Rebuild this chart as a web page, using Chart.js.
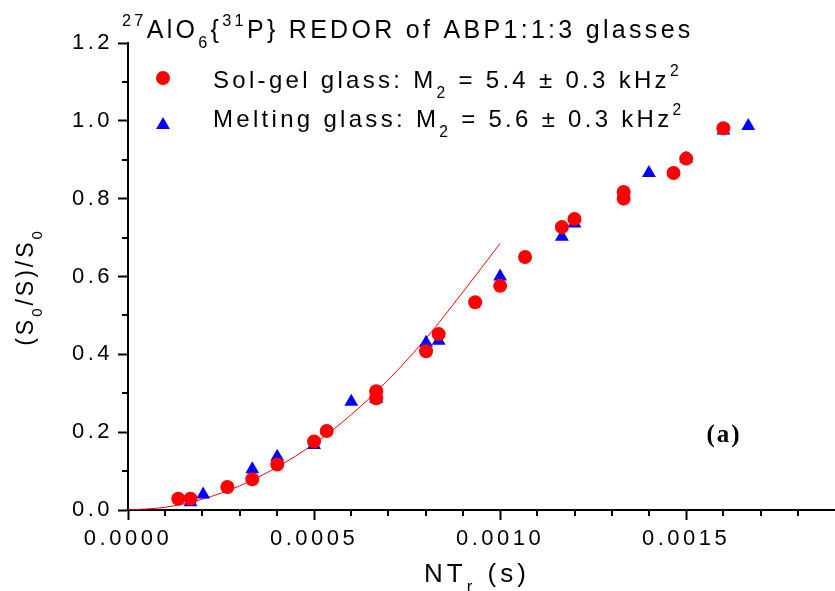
<!DOCTYPE html>
<html>
<head>
<meta charset="utf-8">
<script src="https://cdn.jsdelivr.net/npm/chart.js@4/dist/chart.umd.min.js"></script>
<style>
  body { margin: 0; background: #fff; }
  canvas { display: block; }
</style>
</head>
<body>
<canvas id="chart-redor" width="835" height="591"></canvas>
<script>
// values
const solGelX = [0.000135, 0.000168, 0.000267, 0.000334, 0.000401, 0.0005, 0.000534, 0.000667, 0.000667,
                 0.000801, 0.000835, 0.000933, 0.001, 0.001067, 0.001166, 0.0012, 0.001332, 0.001332,
                 0.001466, 0.0015, 0.0016];
const solGelY = [0.029, 0.029, 0.059, 0.079, 0.117, 0.176, 0.203, 0.287, 0.305,
                 0.408, 0.452, 0.534, 0.576, 0.65, 0.727, 0.748, 0.817, 0.8,
                 0.866, 0.903, 0.981];
const meltX = [0.000168, 0.000202, 0.000334, 0.000401, 0.0005, 0.0006, 0.000667, 0.000801, 0.000835,
               0.001, 0.001166, 0.0012, 0.0014, 0.0015, 0.0016, 0.001667];
const meltY = [0.02, 0.04, 0.105, 0.137, 0.167, 0.278, 0.285, 0.43, 0.435,
               0.6, 0.702, 0.736, 0.866, 0.903, 0.975, 0.987];
// fitted curve (sol-gel)
const fitX = [0, 0.0001, 0.0002, 0.0003, 0.0004, 0.0005, 0.0006, 0.0007, 0.0008, 0.0009, 0.001];
const fitY = [0, 0.007, 0.028, 0.062, 0.11, 0.17, 0.245, 0.335, 0.44, 0.56, 0.685];

const xTicks = [0, 0.0005, 0.001, 0.0015];
const xMinor = [0.0001, 0.0002, 0.0003, 0.0004, 0.0006, 0.0007, 0.0008, 0.0009,
                0.0011, 0.0012, 0.0013, 0.0014, 0.0016, 0.0017, 0.0018];
const yTicks = [0, 0.2, 0.4, 0.6, 0.8, 1.0, 1.2];
const yMinor = [0.1, 0.3, 0.5, 0.7, 0.9, 1.1];

// text pieces: [text, ''|'sub'|'sup']
const titleParts = [['27', 'sup'], ['AlO', ''], ['6', 'sub'], ['{', ''], ['31', 'sup'], ['P} REDOR of ABP1:1:3 glasses', '']];
const solGelLabel = [['Sol-gel glass: M', ''], ['2', 'sub'], [' = 5.4 \u00b1 0.3 kHz', ''], ['2', 'sup']];
const meltLabel = [['Melting glass: M', ''], ['2', 'sub'], [' = 5.6 \u00b1 0.3 kHz', ''], ['2', 'sup']];
const yTitle = [['(S', ''], ['0', 'sub'], ['/S)/S', ''], ['0', 'sub']];
const xTitle = [['NT', ''], ['r', 'sub'], [' (s)', '']];

const FONT = '"Liberation Sans", Arial, sans-serif';

function pts(xs, ys) {
    return xs.map((x, i) => ({ x: x, y: ys[i] }));
}

function drawRich(ctx, parts, x, y, size) {
    parts.forEach(p => {
        const s = p[1] ? size * 0.65 : size;
        let dy = 0;
        if (p[1] === 'sub') dy = size * 0.4;
        if (p[1] === 'sup') dy = -size * 0.5;
        ctx.font = s + 'px ' + FONT;
        ctx.fillText(p[0], x, y + dy);
        x += ctx.measureText(p[0]).width;
    });
    return x;
}

function richWidth(ctx, parts, size) {
    let w = 0;
    parts.forEach(p => {
        ctx.font = (p[1] ? size * 0.65 : size) + 'px ' + FONT;
        w += ctx.measureText(p[0]).width;
    });
    return w;
}

const decor = {
    id: 'decor',
    beforeDraw(chart) {
        chart.ctx.letterSpacing = '3.5px';
    },
    afterDraw(chart) {
        const ctx = chart.ctx;
        const xs = chart.scales.x, ys = chart.scales.y;
        const area = chart.chartArea;
        ctx.save();
        // minor ticks
        ctx.strokeStyle = '#000';
        ctx.lineWidth = 2;
        ctx.beginPath();
        xMinor.forEach(v => {
            const px = Math.round(xs.getPixelForValue(v));
            ctx.moveTo(px, area.bottom);
            ctx.lineTo(px, area.bottom + 6);
        });
        yMinor.forEach(v => {
            const py = Math.round(ys.getPixelForValue(v));
            ctx.moveTo(area.left, py);
            ctx.lineTo(area.left - 6, py);
        });
        ctx.stroke();

        ctx.fillStyle = '#000';
        ctx.textAlign = 'left';
        ctx.textBaseline = 'alphabetic';
        ctx.letterSpacing = '3.3px';
        drawRich(ctx, titleParts, 122, 38, 25);
        drawRich(ctx, solGelLabel, 213, 88, 24);
        drawRich(ctx, meltLabel, 213, 127, 24);

        // legend markers, drawn with the datasets' own point styles
        const d0 = chart.data.datasets[0], d1 = chart.data.datasets[1];
        ctx.fillStyle = d0.backgroundColor;
        Chart.helpers.drawPoint(ctx, { pointStyle: d0.pointStyle, radius: d0.pointRadius, rotation: 0, borderWidth: 0 }, 163, 78);
        ctx.fillStyle = d1.backgroundColor;
        Chart.helpers.drawPoint(ctx, { pointStyle: d1.pointStyle, radius: d1.pointRadius, rotation: 0, borderWidth: 0 }, 163, 125);

        // axis titles
        ctx.fillStyle = '#000';
        ctx.letterSpacing = '4px';
        const xw = richWidth(ctx, xTitle, 26);
        drawRich(ctx, xTitle, 477 - xw / 2, 582, 26);

        ctx.letterSpacing = '3px';
        ctx.translate(33, 287);
        ctx.rotate(-Math.PI / 2);
        const yw = richWidth(ctx, yTitle, 23);
        drawRich(ctx, yTitle, -yw / 2, 0, 23);
        ctx.restore();

        ctx.save();
        ctx.fillStyle = '#000';
        ctx.letterSpacing = '2px';
        ctx.font = 'bold 25px "Liberation Serif", "Times New Roman", serif';
        ctx.textAlign = 'center';
        ctx.textBaseline = 'middle';
        ctx.fillText('(a)', 724, 436);
        ctx.restore();
    }
};

const ctx = document.getElementById('chart-redor').getContext('2d');
new Chart(ctx, {
    type: 'scatter',
    data: {
        datasets: [
            {
                label: 'Sol-gel glass',
                data: pts(solGelX, solGelY),
                backgroundColor: '#ff0000',
                pointStyle: 'circle',
                pointRadius: 7,
                pointBorderWidth: 0
            },
            {
                label: 'Melting glass',
                data: pts(meltX, meltY),
                backgroundColor: '#0000ff',
                pointStyle: 'triangle',
                pointRadius: 8,
                pointBorderWidth: 0
            },
            {
                label: 'fit',
                data: pts(fitX, fitY),
                showLine: true,
                borderColor: '#ff0000',
                borderWidth: 1,
                pointRadius: 0,
                cubicInterpolationMode: 'monotone'
            }
        ]
    },
    options: {
        responsive: false,
        animation: false,
        layout: { autoPadding: false, padding: { top: 43, left: 0, right: 0, bottom: 0 } },
        plugins: { legend: { display: false }, tooltip: { enabled: false } },
        scales: {
            x: {
                type: 'linear',
                min: 0,
                max: 0.0019,
                afterBuildTicks: s => { s.ticks = xTicks.map(v => ({ value: v })); },
                afterFit: s => { s.height = 81; },
                ticks: {
                    color: '#000',
                    font: { family: FONT, size: 22 },
                    padding: 6,
                    maxRotation: 0,
                    autoSkip: false,
                    callback: v => v.toFixed(4)
                },
                grid: { drawOnChartArea: false, drawTicks: true, tickLength: 10, tickWidth: 2, tickColor: '#000' },
                border: { color: '#000', width: 2 }
            },
            y: {
                type: 'linear',
                min: 0,
                max: 1.2,
                afterBuildTicks: s => { s.ticks = yTicks.map(v => ({ value: v })); },
                afterFit: s => { s.width = 128; },
                ticks: {
                    color: '#000',
                    font: { family: FONT, size: 22 },
                    padding: 5,
                    autoSkip: false,
                    callback: v => v.toFixed(1)
                },
                grid: { drawOnChartArea: false, drawTicks: true, tickLength: 10, tickWidth: 2, tickColor: '#000' },
                border: { color: '#000', width: 2 }
            }
        }
    },
    plugins: [decor]
});
</script>
</body>
</html>
